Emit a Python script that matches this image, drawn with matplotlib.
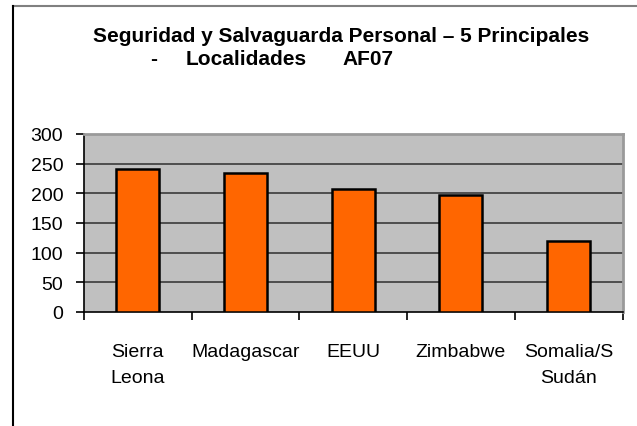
import matplotlib.pyplot as plt
from matplotlib.lines import Line2D

# data
localidades = ['Sierra\nLeona', 'Madagascar', 'EEUU', 'Zimbabwe', 'Somalia/S\nSudán']
valores = [241, 235, 208, 197, 119]
yticks = [0, 50, 100, 150, 200, 250, 300]

plt.rcParams['font.family'] = ['Liberation Sans', 'DejaVu Sans']

W, H = 637, 427
fig = plt.figure(figsize=(W / 100, H / 100), dpi=100)
ax = fig.add_axes([84 / W, (H - 313) / H, 538.5 / W, 178 / H])

# outer chart frame (top gray, left black)
fig.add_artist(Line2D([13 / W, 1], [1 - 7 / H, 1 - 7 / H], transform=fig.transFigure,
                      color='#808080', lw=1.5))
fig.add_artist(Line2D([13 / W, 13 / W], [0, 1 - 7 / H], transform=fig.transFigure,
                      color='black', lw=1.5))

x = list(range(1, len(valores) + 1))
ax.set_facecolor('#C0C0C0')
ax.bar(x, valores, width=0.4, color='#FF6600', edgecolor='black', linewidth=1.8, zorder=3)

ax.set_xlim(0.5, len(valores) + 0.5)
ax.set_ylim(0, 300)
ax.set_yticks(yticks)
ax.set_yticklabels([str(v) for v in yticks])
for v in yticks[1:-1]:
    ax.axhline(v, color='#3a3a3a', lw=1.2, zorder=1)

ax.set_xticks(x)
ax.set_xticklabels(localidades, linespacing=1.7)
ax.set_xticks([i + 0.5 for i in range(len(valores) + 1)], minor=True)
ax.tick_params(axis='x', which='major', length=0, pad=22, labelsize=14)
ax.tick_params(axis='x', which='minor', length=6, width=1.2, direction='out')
ax.tick_params(axis='y', length=6, width=1.2, pad=9, labelsize=14)

for s in ['left', 'bottom']:
    ax.spines[s].set_color('black')
    ax.spines[s].set_linewidth(1.2)
for s in ['top', 'right']:
    ax.spines[s].set_color('#9a9a9a')
    ax.spines[s].set_linewidth(2)

# title (two lines as in the reference)
tfs = 15
fig.text(341.5 / W, 1 - 42 / H, 'Seguridad y Salvaguarda Personal – 5 Principales',
         ha='center', va='baseline', fontsize=tfs, fontweight='bold')
fig.text(150 / W, 1 - 65 / H, '-', ha='left', va='baseline', fontsize=tfs, fontweight='bold')
fig.text(186 / W, 1 - 65 / H, 'Localidades', ha='left', va='baseline', fontsize=tfs,
         fontweight='bold')
fig.text(342 / W, 1 - 65 / H, 'AF07', ha='left', va='baseline', fontsize=tfs,
         fontweight='bold')

fig.savefig('out.png', dpi=100)
